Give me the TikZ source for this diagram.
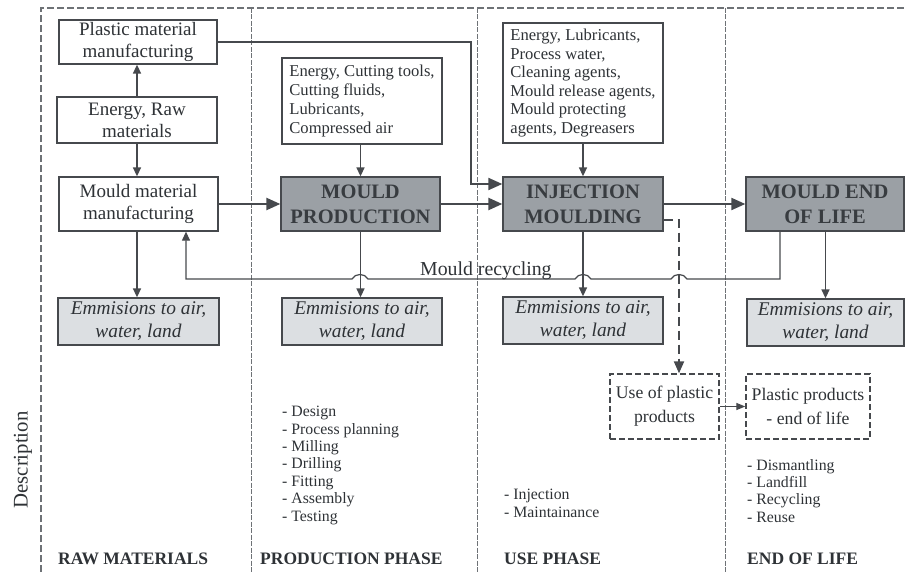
\documentclass[tikz,border=0pt]{standalone}
\usepackage{fontspec}
\setmainfont{Liberation Serif}
\usetikzlibrary{arrows.meta,calc}
\definecolor{ln}{HTML}{46494D}
\definecolor{mainfill}{HTML}{9BA0A5}
\definecolor{emfill}{HTML}{DCDFE2}
\definecolor{framec}{HTML}{6E7276}
\definecolor{txt}{HTML}{2E3236}
\definecolor{maintxt}{HTML}{383C40}
\begin{document}
\begin{tikzpicture}[x=1pt,y=-1pt,
 every node/.style={text=txt},
 box/.style={draw=ln, line width=1.3pt, fill=white, align=center, inner sep=0pt, font=\fontsize{19}{22}\selectfont},
 mainbox/.style={box, fill=mainfill, text=maintxt, font=\fontsize{20.5}{25}\selectfont\bfseries, minimum width=159pt, minimum height=54pt},
 embox/.style={box, fill=emfill, font=\fontsize{19.4}{23}\selectfont\itshape, minimum height=47pt},
 inbox/.style={box, align=left, font=\fontsize{16.6}{18.6}\selectfont},
 dbox/.style={box, dash pattern=on 6pt off 3pt, font=\fontsize{17.7}{24}\selectfont, minimum height=65pt},
 listtxt/.style={anchor=north west, inner sep=0pt, align=left, font=\fontsize{15.8}{17.4}\selectfont},
 headtxt/.style={anchor=base west, inner sep=0pt, font=\fontsize{17.5}{18}\selectfont\bfseries},
 arr/.style={draw=ln, line width=1.5pt, -{Triangle[length=9pt,width=8pt]}},
 bigarr/.style={draw=ln, line width=2.3pt, -{Triangle[length=14pt,width=12pt]}},
 thinarr/.style={draw=ln, line width=1.2pt, -{Triangle[length=9pt,width=7pt]}},
 dasharr/.style={draw=ln, line width=2pt, dash pattern=on 9pt off 5pt, -{Triangle[length=12pt,width=10pt]}},
 recyc/.style={draw=ln, line width=1.2pt, -{Triangle[length=9pt,width=8pt]}}
]
\useasboundingbox (0,0) rectangle (905,572);

% frame and column dividers
\draw[framec, line width=1.2pt, dash pattern=on 7pt off 3pt] (41,572) -- (41,8) -- (905,8);
\foreach \xx in {251,477,725}
  \draw[framec, line width=0.8pt, dash pattern=on 5pt off 1.5pt] (\xx,8) -- (\xx,572);

% raw materials column
\node[box, minimum width=158pt, minimum height=44pt] (plastic) at (138,42) {Plastic material\\manufacturing};
\node[box, minimum width=160pt, minimum height=46pt] (erm) at (137,120) {Energy, Raw\\materials};
\node[box, minimum width=159pt, minimum height=54pt] (mmm) at (138.5,204) {Mould material\\manufacturing};
\node[embox, minimum width=161pt] (em1) at (138.5,321.5) {Emmisions to air,\\water, land};

% production column
\node[inbox, minimum width=160pt, minimum height=86pt, font=\fontsize{16.6}{19}\selectfont] (cin) at (362,101) {Energy, Cutting tools,\\Cutting fluids,\\Lubricants,\\Compressed air};
\node[mainbox] (mp) at (360.5,204) {MOULD\\PRODUCTION};
\node[embox, minimum width=160pt] (em2) at (362,321.5) {Emmisions to air,\\water, land};

% use column
\node[inbox, minimum width=160pt, minimum height=120pt] (iin) at (583,83) {Energy, Lubricants,\\Process water,\\Cleaning agents,\\Mould release agents,\\Mould protecting\\agents, Degreasers};
\node[mainbox, minimum width=160pt] (im) at (583,204) {INJECTION\\MOULDING};
\node[embox, minimum width=160pt] (em3) at (583,320.5) {Emmisions to air,\\water, land};
\node[dbox, minimum width=109pt] (use) at (664.5,406.5) {Use of plastic\\products};

% end of life column
\node[mainbox, minimum width=158pt] (meol) at (825,204) {MOULD END\\OF LIFE};
\node[embox, minimum width=157pt] (em4) at (825.5,322.5) {Emmisions to air,\\water, land};
\node[dbox, minimum width=124pt] (ppeol) at (808,406.5) {Plastic products\\- end of life};

% connectors
\draw[arr] (erm.north) -- (erm.north |- plastic.south);
\draw[arr] (erm.south) -- (erm.south |- mmm.north);
\draw[arr] (mmm.south -| erm) -- (em1.north -| erm);
\draw[bigarr] (mmm.east) -- (mp.west);
\draw[arr] (cin.south -| mp) -- (mp.north);
\draw[arr] (mp.south) -- (em2.north -| mp);
\draw[bigarr] (mp.east) -- (im.west);
\coordinate (pbend) at (471,184);
\draw[bigarr, line width=2pt] (plastic.east) -| (pbend) -- (pbend -| im.west);
\draw[arr] (iin.south) -- (im.north);
\draw[arr] (im.south) -- (em3.north -| im);
\draw[bigarr, line width=2pt] (im.east) -- (meol.west);
\draw[arr] (meol.south -| em4) -- (em4.north);
\coordinate (dcorner) at (679,220);
\draw[dasharr] (im.east |- dcorner) -- (dcorner) -- (dcorner |- use.north);
\draw[thinarr] (use.east) -- (ppeol.west);

% mould recycling loop with hops
\coordinate (r1) at (780,279);
\coordinate (r2) at (186,279);
\draw[recyc] (meol.south -| r1) -- (r1)
  -- (687,279) .. controls (684,273) and (674,273) .. (671,279)
  -- (591,279) .. controls (588,273) and (578,273) .. (575,279)
  -- (368,279) .. controls (365,273) and (355,273) .. (352,279)
  -- (r2) -- (r2 |- mmm.south);
\node[anchor=base west, inner sep=0pt, font=\fontsize{19.8}{22}\selectfont] (mrlabel) at (420,275) {Mould recycling};

% descriptions
\node[rotate=90, inner sep=0pt, font=\fontsize{20.8}{22}\selectfont] (desc) at (23,460) {Description};
\node[listtxt] (l2) at (282,406) {- Design\\- Process planning\\- Milling\\- Drilling\\- Fitting\\- Assembly\\- Testing};
\node[listtxt] (l3) at (504,489) {- Injection\\- Maintainance};
\node[listtxt] (l4) at (747,459) {- Dismantling\\- Landfill\\- Recycling\\- Reuse};

\node[headtxt] (h1) at (58,564) {RAW MATERIALS};
\node[headtxt] (h2) at (260,564) {PRODUCTION PHASE};
\node[headtxt] (h3) at (504,564) {USE PHASE};
\node[headtxt] (h4) at (747,564) {END OF LIFE};
\end{tikzpicture}
\end{document}
